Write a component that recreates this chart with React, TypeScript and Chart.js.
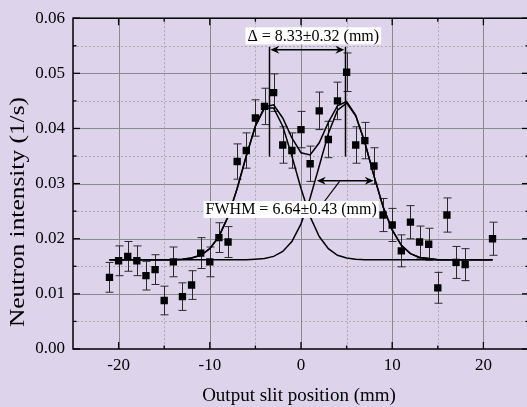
import React, { useEffect, useRef } from 'react';
import { Chart, registerables } from 'chart.js';
Chart.register(...registerables);

// ---- data ----
const positions = [-21, -20, -19, -18, -17, -16, -15, -14, -13, -12, -11, -10, -9, -8, -7, -6, -5, -4, -3, -2, -1, 0, 1, 2, 3, 4, 5, 6, 7, 8, 9, 10, 11, 12, 13, 14, 15, 16, 17, 18, 21];
const intensity = [0.0130, 0.0160, 0.0168, 0.0160, 0.0133, 0.0144, 0.0088, 0.0158, 0.0095, 0.0116, 0.0174, 0.0158, 0.0202, 0.0194, 0.0340, 0.0360, 0.0419, 0.0440, 0.0465, 0.0370, 0.0360, 0.0398, 0.0336, 0.0432, 0.0380, 0.0450, 0.0502, 0.0370, 0.0378, 0.0332, 0.0243, 0.0225, 0.0178, 0.0230, 0.0194, 0.0190, 0.0111, 0.0243, 0.0157, 0.0153, 0.0200];
const errors = [0.0027, 0.0027, 0.0027, 0.0027, 0.0026, 0.0027, 0.0026, 0.0027, 0.0025, 0.0026, 0.0028, 0.0027, 0.0027, 0.0028, 0.0032, 0.0032, 0.0033, 0.0033, 0.0034, 0.0033, 0.0032, 0.0033, 0.0032, 0.0034, 0.0033, 0.0034, 0.0035, 0.0033, 0.0033, 0.0033, 0.0030, 0.0030, 0.0029, 0.0030, 0.0029, 0.0029, 0.0028, 0.0031, 0.0029, 0.0029, 0.0030];

const fitX = [-21, -20, -19, -18, -17, -16, -15, -14, -13, -12, -11, -10, -9, -8, -7, -6, -5, -4, -3, -2, -1, 0, 1, 2, 3, 4, 5, 6, 7, 8, 9, 10, 11, 12, 13, 14, 15, 16, 17, 18, 19, 20, 21];
const fitSum = [0.0162, 0.0162, 0.0162, 0.0162, 0.0162, 0.0162, 0.0162, 0.0162, 0.0163, 0.0165, 0.0170, 0.0182, 0.0204, 0.0240, 0.0291, 0.0350, 0.0405, 0.0439, 0.0443, 0.0419, 0.0383, 0.0356, 0.0352, 0.0374, 0.0411, 0.0441, 0.0449, 0.0424, 0.0375, 0.0314, 0.0258, 0.0216, 0.0188, 0.0173, 0.0166, 0.0164, 0.0162, 0.0162, 0.0162, 0.0162, 0.0162, 0.0162, 0.0162];
const fitPeak1 = [0.0162, 0.0162, 0.0162, 0.0162, 0.0162, 0.0162, 0.0162, 0.0162, 0.0163, 0.0165, 0.0170, 0.0182, 0.0204, 0.0240, 0.0291, 0.0350, 0.0404, 0.0437, 0.0437, 0.0404, 0.0350, 0.0291, 0.0240, 0.0204, 0.0182, 0.0170, 0.0165, 0.0163, 0.0162, 0.0162, 0.0162, 0.0162, 0.0162, 0.0162, 0.0162, 0.0162, 0.0162, 0.0162, 0.0162, 0.0162, 0.0162, 0.0162, 0.0162];
const fitPeak2 = [0.0162, 0.0162, 0.0162, 0.0162, 0.0162, 0.0162, 0.0162, 0.0162, 0.0162, 0.0162, 0.0162, 0.0162, 0.0162, 0.0162, 0.0162, 0.0162, 0.0163, 0.0164, 0.0168, 0.0177, 0.0195, 0.0227, 0.0274, 0.0332, 0.0391, 0.0433, 0.0446, 0.0423, 0.0374, 0.0314, 0.0258, 0.0216, 0.0188, 0.0173, 0.0166, 0.0164, 0.0162, 0.0162, 0.0162, 0.0162, 0.0162, 0.0162, 0.0162];

const xTicks = [-20, -10, 0, 10, 20];
const xMinorTicks = [-15, -5, 5, 15];
const yTicks = [0, 0.01, 0.02, 0.03, 0.04, 0.05, 0.06];
const yMinorTicks = [0.005, 0.015, 0.025, 0.035, 0.045, 0.055];

const peakCenters = [-3.47, 4.86];
const deltaSpan = { top: 0.0548, bottom: 0.0349, arrowY: 0.0543 };
const deltaLabel = { text: 'Δ = 8.33±0.32 (mm)', x: 1.35, y: 0.0568 };
const fwhmArrow = { from: 1.74, to: 7.97, y: 0.0305 };
const fwhmLeader = { x1: 4.23, y1: 0.0304, x2: 2.58, y2: 0.0268 };
const fwhmLabel = { text: 'FWHM = 6.64±0.43 (mm)', x: -1.08, y: 0.0253 };

const xTitle = 'Output slit position (mm)';
const yTitle = 'Neutron intensity (1/s)';

const BG = 'rgb(221,212,236)';
const FONT = '"Liberation Serif", "Times New Roman", serif';

function arrowHead(ctx: CanvasRenderingContext2D, x: number, y: number, dir: number) {
  const L = 9, W = 4, N = 3;
  ctx.beginPath();
  ctx.moveTo(x, y);
  ctx.lineTo(x - dir * L, y - W);
  ctx.lineTo(x - dir * (L - N), y);
  ctx.lineTo(x - dir * L, y + W);
  ctx.closePath();
  ctx.fill();
}

export default function App() {
  const ref = useRef<HTMLCanvasElement>(null);
  useEffect(() => {
    const canvas = ref.current!;
    const deco = {
      id: 'deco',
      beforeDatasetsDraw(c: any) {
        const ctx: CanvasRenderingContext2D = c.ctx;
        const a = c.chartArea;
        const sx = (v: number) => c.scales.x.getPixelForValue(v);
        const sy = (v: number) => c.scales.y.getPixelForValue(v);
        ctx.save();
        ctx.lineWidth = 1;
        ctx.strokeStyle = '#ababab';
        ctx.setLineDash([2, 2]);
        for (const v of xMinorTicks) {
          const p = Math.round(sx(v)) + 0.5;
          ctx.beginPath(); ctx.moveTo(p, a.top); ctx.lineTo(p, a.bottom); ctx.stroke();
        }
        for (const v of yMinorTicks) {
          const p = Math.round(sy(v)) + 0.5;
          ctx.beginPath(); ctx.moveTo(a.left, p); ctx.lineTo(a.right, p); ctx.stroke();
        }
        ctx.setLineDash([]);
        ctx.strokeStyle = '#8a8a8a';
        for (const v of xTicks) {
          const p = Math.round(sx(v)) + 0.5;
          ctx.beginPath(); ctx.moveTo(p, a.top); ctx.lineTo(p, a.bottom); ctx.stroke();
        }
        for (const v of yTicks) {
          if (v === 0 || v === 0.06) continue;
          const p = Math.round(sy(v)) + 0.5;
          ctx.beginPath(); ctx.moveTo(a.left, p); ctx.lineTo(a.right, p); ctx.stroke();
        }
        ctx.strokeStyle = '#2a2a2a';
        ctx.lineWidth = 1;
        positions.forEach((xv, i) => {
          const px = Math.round(sx(xv)) + 0.5;
          const t = sy(intensity[i] + errors[i]);
          const b = sy(intensity[i] - errors[i]);
          ctx.beginPath();
          ctx.moveTo(px, t); ctx.lineTo(px, b);
          ctx.moveTo(px - 4, t); ctx.lineTo(px + 4, t);
          ctx.moveTo(px - 4, b); ctx.lineTo(px + 4, b);
          ctx.stroke();
        });
        ctx.restore();
      },
      afterDatasetsDraw(c: any) {
        const ctx: CanvasRenderingContext2D = c.ctx;
        const a = c.chartArea;
        const sx = (v: number) => c.scales.x.getPixelForValue(v);
        const sy = (v: number) => c.scales.y.getPixelForValue(v);
        ctx.save();
        ctx.strokeStyle = '#000';
        ctx.lineWidth = 1.5;
        ctx.strokeRect(a.left, a.top, a.right - a.left, a.bottom - a.top);
        ctx.lineWidth = 1.3;
        const tk = (x1: number, y1: number, x2: number, y2: number) => { ctx.beginPath(); ctx.moveTo(x1, y1); ctx.lineTo(x2, y2); ctx.stroke(); };
        for (const v of xTicks) { const p = sx(v); tk(p, a.bottom, p, a.bottom - 7); tk(p, a.top, p, a.top + 7); }
        for (const v of xMinorTicks) { const p = sx(v); tk(p, a.bottom, p, a.bottom - 3.5); tk(p, a.top, p, a.top + 3.5); }
        for (const v of yTicks) { const p = sy(v); tk(a.left, p, a.left + 7, p); tk(a.right, p, a.right - 7, p); }
        for (const v of yMinorTicks) { const p = sy(v); tk(a.left, p, a.left + 3.5, p); tk(a.right, p, a.right - 3.5, p); }

        ctx.lineWidth = 1.5;
        ctx.strokeStyle = '#000';
        ctx.fillStyle = '#000';
        for (const cx of peakCenters) {
          const p = Math.round(sx(cx)) + 0.5;
          tk(p, sy(deltaSpan.top), p, sy(deltaSpan.bottom));
        }
        const ay = sy(deltaSpan.arrowY);
        const ax1 = sx(peakCenters[0]) + 1, ax2 = sx(peakCenters[1]) - 1;
        tk(ax1 + 4, ay, ax2 - 4, ay);
        arrowHead(ctx, ax1, ay, -1);
        arrowHead(ctx, ax2, ay, 1);

        const fy = sy(fwhmArrow.y);
        const f1 = sx(fwhmArrow.from), f2 = sx(fwhmArrow.to);
        tk(f1 + 4, fy, f2 - 4, fy);
        arrowHead(ctx, f1, fy, -1);
        arrowHead(ctx, f2, fy, 1);
        ctx.lineWidth = 1.2;
        tk(sx(fwhmLeader.x1), sy(fwhmLeader.y1), sx(fwhmLeader.x2), sy(fwhmLeader.y2));

        ctx.font = `16px ${FONT}`;
        ctx.textBaseline = 'middle';
        ctx.textAlign = 'center';
        for (const lab of [deltaLabel, fwhmLabel]) {
          const cx = sx(lab.x), cy = sy(lab.y);
          const w = ctx.measureText(lab.text).width;
          ctx.fillStyle = '#fff';
          ctx.fillRect(cx - w / 2 - 2, cy - 8.5, w + 4, 17);
          ctx.fillStyle = '#000';
          ctx.fillText(lab.text, cx, cy + 0.5);
        }

        ctx.fillStyle = '#000';
        ctx.textAlign = 'center';
        ctx.textBaseline = 'middle';
        ctx.font = `19px ${FONT}`;
        ctx.fillText(xTitle, 299, 396);
        ctx.save();
        ctx.translate(18.5, 212);
        ctx.rotate(-Math.PI / 2);
        ctx.font = `20px ${FONT}`;
        const tw = ctx.measureText(yTitle).width;
        ctx.scale(230 / tw, 1);
        ctx.fillText(yTitle, 0, 0);
        ctx.restore();
        ctx.restore();
      },
    };

    const curve = (ys: number[]) => ({
      type: 'line' as const,
      data: fitX.map((x, i) => ({ x, y: ys[i] })),
      borderColor: '#000',
      borderWidth: 1.5,
      pointRadius: 0,
      tension: 0,
      fill: false,
    });

    const chart = new Chart(canvas, {
      type: 'scatter',
      data: {
        datasets: [
          curve(fitSum) as any,
          curve(fitPeak1) as any,
          curve(fitPeak2) as any,
          {
            type: 'scatter',
            data: positions.map((x, i) => ({ x, y: intensity[i] })),
            pointStyle: 'rect',
            pointRadius: 5.2,
            pointHoverRadius: 5.2,
            backgroundColor: '#000',
            borderColor: '#000',
            borderWidth: 0,
          },
        ],
      },
      options: {
        responsive: false,
        maintainAspectRatio: false,
        animation: false,
        events: [],
        layout: { padding: { left: 0, right: 11, top: 16, bottom: 0 } },
        plugins: { legend: { display: false }, tooltip: { enabled: false }, title: { display: false } },
        scales: {
          x: {
            type: 'linear',
            min: -25,
            max: 25,
            afterBuildTicks: (s: any) => { s.ticks = xTicks.map((v) => ({ value: v })); },
            afterFit: (s: any) => { s.height = 58; },
            ticks: { font: { family: FONT, size: 17 }, color: '#000', padding: 6, maxRotation: 0, callback: (v: any) => String(v) },
            grid: { display: false, drawTicks: false },
            border: { display: false },
          },
          y: {
            type: 'linear',
            min: 0,
            max: 0.06,
            afterBuildTicks: (s: any) => { s.ticks = yTicks.map((v) => ({ value: v })); },
            afterFit: (s: any) => { s.width = 73; },
            ticks: { font: { family: FONT, size: 17 }, color: '#000', padding: 8, callback: (v: any) => Number(v).toFixed(2) },
            grid: { display: false, drawTicks: false },
            border: { display: false },
          },
        },
      },
      plugins: [deco],
    });
    return () => chart.destroy();
  }, []);

  return (
    <div style={{ position: 'fixed', left: 0, top: 0, width: 527, height: 407, overflow: 'hidden', background: BG }}>
      <canvas ref={ref} width={540} height={407} style={{ display: 'block', width: 540, height: 407 }} />
    </div>
  );
}
